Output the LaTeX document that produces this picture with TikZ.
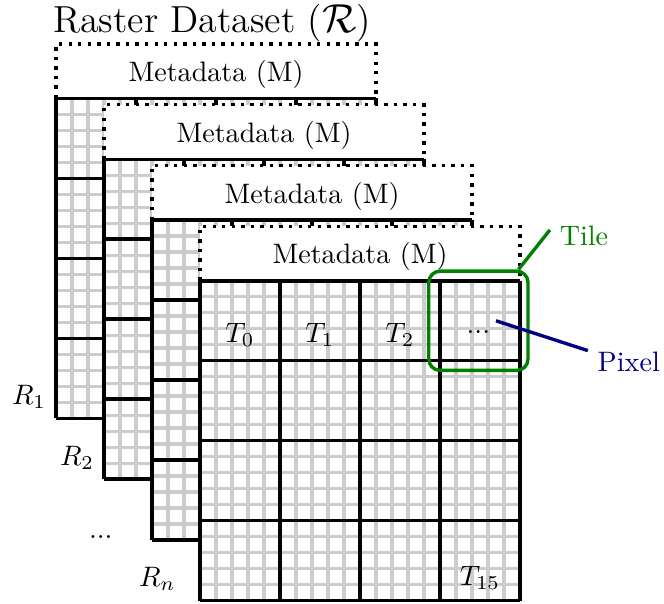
\documentclass[tikz,border=0pt]{standalone}
\definecolor{tilegreen}{RGB}{0,128,0}
\definecolor{pixelblue}{RGB}{0,0,128}
\newcommand{\layerdots}{...}
\tikzset{
  pixelgrid/.style={gray!40, line width=1.1pt},
  tilegrid/.style={black, line width=1.2pt},
  metabox/.style={fill=white, line width=1.2pt, dash pattern=on 1.2pt off 2.2pt},
}

\begin{document}
\begin{tikzpicture}
  \useasboundingbox (-2.5,-0.03) rectangle (5.8,7.51);

  % Raster layers, back to front
  \foreach \k/\lab/\dx/\dy in {3/R_1/0/0, 2/R_2/0/0, 1/\layerdots/-0.37/-0.11, 0/R_n/-0.18/0}{
    \begin{scope}[shift={(-0.6*\k,0.76*\k)}]
      % Metadata
      \draw[metabox] (0,4) rectangle (4,4.68);
      \node[above] (meta\k) at (2,4) {Metadata (M)};
      % Tiles and pixels
      \fill[white] (0,0) rectangle (4,4);
      \draw[pixelgrid, step=0.2] (0,0) grid (4,4);
      \draw[tilegrid, step=1] (0,0) grid (4,4);
      \node[above left] (r\k) at (\dx,\dy) {$\lab$};
    \end{scope}
  }

  % Title
  \node[anchor=base, font=\fontsize{13.4}{16}\selectfont] (title) at (0.15,7.1) {Raster Dataset ($\mathcal{R}$)};

  % Tile labels
  \node (t0) at (0.5,3.32) {$T_0$};
  \node (t1) at (1.5,3.32) {$T_1$};
  \node (t2) at (2.5,3.32) {$T_2$};
  \node (t3) at (3.48,3.36) {$\layerdots$};
  \node (t15) at (3.5,0.29) {$T_{15}$};

  % Tile
  \node[draw=tilegreen, very thick, rounded corners, minimum size=1.24cm, inner sep=0] (tilebox) at (3.48,3.5) {};
  \node[text=tilegreen] (tile) at (4.8,4.56) {Tile};
  \draw[tilegreen, very thick] (tilebox.52) -- (tile.170);

  % Pixel
  \coordinate (pix) at (3.7,3.5);
  \node[text=pixelblue] (pixel) at (5.36,2.99) {Pixel};
  \draw[pixelblue, very thick] (pix) -- (pixel.165);
\end{tikzpicture}
\end{document}
